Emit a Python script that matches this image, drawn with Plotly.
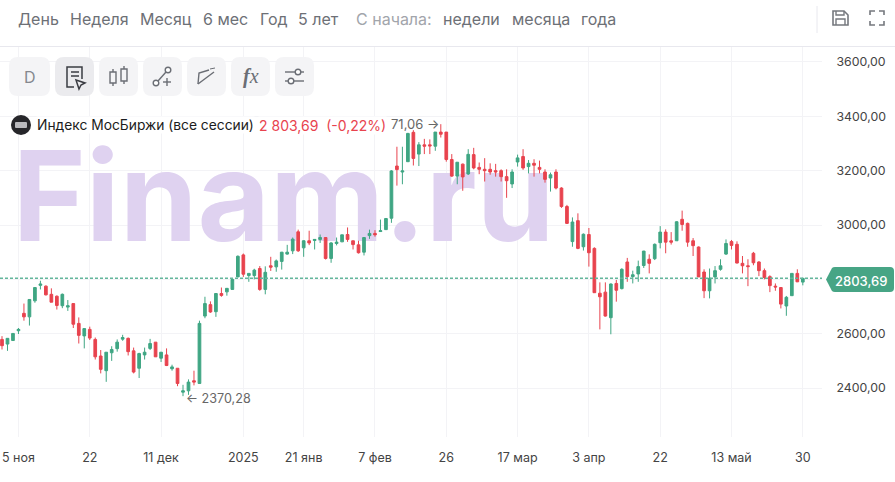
import plotly.graph_objects as go

W, H = 895, 482

# candles
opens = [2579, 2562, 2575, 2611, 2675, 2662, 2721, 2778, 2775, 2745, 2738, 2703, 2698, 2711, 2638, 2592, 2616, 2579, 2518, 2464,
         2530, 2545, 2580, 2583, 2537, 2473, 2522, 2546, 2569, 2510, 2522, 2471, 2473, 2385, 2390, 2427, 2417, 2665, 2707, 2681,
         2748, 2754, 2763, 2809, 2890, 2814, 2814, 2840, 2763, 2850, 2846, 2866, 2893, 2905, 2975, 2916, 2942, 2943, 2947, 2954,
         2877, 2932, 2938, 2965, 2942, 2927, 2900, 2961, 2969, 2976, 2983, 3025, 3217, 3195, 3233, 3341, 3261, 3295, 3295, 3290,
         3342, 3342, 3241, 3180, 3224, 3188, 3259, 3212, 3205, 3205, 3200, 3200, 3178, 3151, 3232, 3252, 3215, 3227, 3212, 3195,
         3173, 3195, 3136, 3068, 2939, 3016, 2920, 2965, 2914, 2749, 2753, 2659, 2785, 2766, 2864, 2810, 2820, 2851, 2874, 2876,
         2935, 2974, 2942, 2942, 3021, 3006, 2942, 2919, 2827, 2758, 2809, 2837, 2893, 2939, 2929, 2859, 2850, 2896, 2864, 2832,
         2810, 2775, 2770, 2702, 2740, 2822, 2790]
highs = [2591, 2583, 2601, 2621, 2711, 2726, 2770, 2795, 2778, 2767, 2741, 2748, 2724, 2711, 2660, 2619, 2626, 2586, 2540, 2532,
         2554, 2579, 2596, 2586, 2549, 2530, 2549, 2581, 2569, 2532, 2546, 2486, 2473, 2412, 2432, 2464, 2648, 2736, 2719, 2748,
         2770, 2767, 2800, 2888, 2895, 2822, 2839, 2849, 2848, 2883, 2873, 2901, 2927, 2954, 2983, 2944, 2979, 2947, 2965, 2954,
         2937, 2954, 2964, 2991, 2942, 2942, 2954, 2983, 2981, 3020, 3024, 3202, 3288, 3288, 3339, 3349, 3305, 3317, 3315, 3342,
         3371.06, 3342, 3261, 3231, 3226, 3279, 3284, 3230, 3246, 3227, 3225, 3205, 3205, 3205, 3259, 3279, 3239, 3242, 3237, 3205,
         3193, 3205, 3139, 3074, 3028, 3043, 2969, 2989, 2918, 2789, 2789, 2785, 2798, 2841, 2879, 2832, 2869, 2905, 2892, 2932,
         2996, 2984, 2974, 3014, 3053, 3009, 2952, 2921, 2837, 2840, 2849, 2874, 2947, 2945, 2940, 2886, 2874, 2901, 2867, 2840,
         2815, 2785, 2770, 2739, 2822, 2837, 2806]
lows = [2542, 2537, 2575, 2599, 2648, 2630, 2714, 2763, 2741, 2716, 2689, 2694, 2684, 2621, 2564, 2546, 2577, 2505, 2454, 2423,
        2500, 2534, 2574, 2520, 2454, 2437, 2505, 2540, 2515, 2496, 2481, 2464, 2407, 2370.28, 2375, 2410, 2417, 2657, 2677, 2662,
        2736, 2740, 2763, 2809, 2809, 2791, 2800, 2758, 2745, 2831, 2828, 2836, 2891, 2893, 2901, 2883, 2926, 2910, 2934, 2873,
        2861, 2925, 2938, 2938, 2910, 2895, 2888, 2949, 2957, 2976, 2983, 3008, 3145, 3150, 3233, 3219, 3217, 3261, 3261, 3273,
        3322, 3233, 3177, 3150, 3126, 3184, 3205, 3187, 3160, 3185, 3178, 3160, 3100, 3136, 3215, 3203, 3190, 3178, 3190, 3156,
        3123, 3131, 3063, 3004, 2920, 2911, 2906, 2847, 2751, 2616, 2663, 2598, 2718, 2763, 2791, 2785, 2791, 2842, 2822, 2871,
        2914, 2896, 2928, 2942, 2979, 2920, 2886, 2809, 2731, 2730, 2785, 2832, 2890, 2910, 2859, 2822, 2775, 2852, 2812, 2800,
        2753, 2758, 2693, 2666, 2740, 2790, 2778]
closes = [2556, 2583, 2601, 2616, 2662, 2726, 2770, 2783, 2743, 2716, 2704, 2745, 2703, 2635, 2594, 2619, 2584, 2515, 2469, 2532,
          2542, 2569, 2586, 2534, 2459, 2527, 2532, 2564, 2515, 2532, 2483, 2478, 2417, 2390, 2422, 2422, 2638, 2711, 2680, 2748,
          2741, 2767, 2800, 2885, 2819, 2822, 2834, 2763, 2826, 2845, 2868, 2900, 2900, 2948, 2905, 2942, 2934, 2947, 2954, 2877,
          2934, 2937, 2964, 2947, 2928, 2898, 2954, 2969, 2964, 2979, 3024, 3199, 3204, 3199, 3337, 3245, 3295, 3290, 3291, 3342,
          3334, 3241, 3180, 3231, 3177, 3260, 3210, 3205, 3200, 3195, 3195, 3178, 3163, 3195, 3247, 3210, 3227, 3220, 3205, 3168,
          3185, 3136, 3068, 3006, 3011, 2914, 2966, 2898, 2751, 2736, 2665, 2783, 2760, 2837, 2810, 2817, 2847, 2904, 2859, 2929,
          2974, 2937, 2937, 3012, 3002, 2937, 2924, 2809, 2758, 2804, 2832, 2850, 2932, 2925, 2860, 2850, 2847, 2861, 2832, 2807,
          2777, 2772, 2709, 2734, 2822, 2791, 2803.69]

xtick_idx = [3, 16, 29, 44, 55, 68, 81, 94, 107, 120, 133, 146]
xtick_labels = ['5 ноя', '22', '11 дек', '2025', '21 янв', '7 фев', '26', '17 мар', '3 апр', '22', '13 май', '30']
ytick_vals = [2400, 2600, 2800, 3000, 3200, 3400, 3600]
# the price badge sits on top of 2800,00
ytick_labels = ['2400,00', '2600,00', '', '3000,00', '3200,00', '3400,00', '3600,00']

last_price = 2803.69
last_label = '2803,69'
high_label = '71,06 →'  # the rest of it is hidden behind the legend
low_label = '← 2370,28'
legend_name = 'Индекс МосБиржи (все сессии)'
legend_value = '2 803,69\u00a0 (-0,22%)'
watermark = 'Finam.ru'

top_links = [('День', 17), ('Неделя', 69), ('Месяц', 139), ('6 мес', 202), ('Год', 259), ('5 лет', 297),
             ('С начала:', 355), ('недели', 442), ('месяца', 511), ('года', 580)]

GREEN = '#3fa683'
RED = '#e8434e'
GRID = '#f3f3f6'
BORDER = '#e8e8ee'
ICON = '#6b6e75'
FONT = 'Inter'


def px(x):
    return x / W


def py(y):
    return 1 - y / H


def path(d):
    # d is an svg path in screen pixels: flip it over to paper coords
    out = []
    nums = d.split()
    i = 0
    while i < len(nums):
        tok = nums[i]
        if tok[0].isalpha():
            out.append(tok)
            i += 1
        else:
            out.append(f'{px(float(tok)):.5f},{py(float(nums[i + 1])):.5f}')
            i += 2
    return ' '.join(out)


def stroke(d, color=ICON, width=1.4):
    return dict(type='path', xref='paper', yref='paper', path=path(d), layer='above',
                line=dict(color=color, width=width))


def rrect(x0, y0, x1, y1, r, fill):
    d = (f'M {x0 + r} {y0} L {x1 - r} {y0} Q {x1} {y0} {x1} {y0 + r} L {x1} {y1 - r} Q {x1} {y1} {x1 - r} {y1} '
         f'L {x0 + r} {y1} Q {x0} {y1} {x0} {y1 - r} L {x0} {y0 + r} Q {x0} {y0} {x0 + r} {y0} Z')
    return dict(type='path', xref='paper', yref='paper', path=path(d), layer='above',
                fillcolor=fill, line=dict(width=0))


def circle(cx, cy, r, fill='white', color=ICON, width=1.4):
    return dict(type='circle', xref='paper', yref='paper', layer='above', x0=px(cx - r), x1=px(cx + r),
                y0=py(cy + r), y1=py(cy - r), fillcolor=fill, line=dict(color=color, width=width))


def label(text, x, y, size=13, color='#444', xanchor='left', weight='normal', **kw):
    return dict(text=text, xref='paper', yref='paper', x=px(x), y=py(y), xanchor=xanchor, yanchor='middle',
                showarrow=False, font=dict(family=kw.pop('family', FONT), size=size, color=color, weight=weight),
                borderpad=0, **kw)


fig = go.Figure()

fig.add_trace(go.Scatter(x=[1.9], y=[3057], mode='text', text=[watermark], textposition='middle right',
                         textfont=dict(family=FONT, size=125, color='#dfd2f0', weight=700),
                         zorder=-1, hoverinfo='skip', showlegend=False))

fig.add_trace(go.Candlestick(x=list(range(len(opens))), open=opens, high=highs, low=lows, close=closes,
                             increasing=dict(line=dict(color=GREEN, width=1), fillcolor=GREEN),
                             decreasing=dict(line=dict(color=RED, width=1), fillcolor=RED),
                             whiskerwidth=0, showlegend=False))

shapes = []
# last price line
shapes.append(dict(type='line', xref='paper', yref='y', x0=0, x1=px(822), y0=last_price, y1=last_price,
                   layer='above', line=dict(color='#63b69b', width=1.5, dash='3px 2px')))
# header
shapes.append(dict(type='line', xref='paper', yref='paper', x0=0, x1=1, y0=py(46.5), y1=py(46.5),
                   line=dict(color=BORDER, width=1)))
shapes.append(dict(type='line', xref='paper', yref='paper', x0=px(817), x1=px(817), y0=py(6), y1=py(33),
                   line=dict(color=BORDER, width=1)))
# save + fullscreen icons
shapes.append(stroke('M 833 11 L 844 11 L 848 15 L 848 25 L 833 25 Z', '#75787e', 1.6))
shapes.append(stroke('M 836 11 L 836 15 L 844 15 L 844 11', '#75787e', 1.4))
shapes.append(stroke('M 836 25 L 836 19 L 845 19 L 845 25', '#75787e', 1.4))
shapes.append(stroke('M 870 15 L 870 11 L 875 11', '#75787e', 1.6))
shapes.append(stroke('M 879 11 L 884 11 L 884 15', '#75787e', 1.6))
shapes.append(stroke('M 870 21 L 870 25 L 875 25', '#75787e', 1.6))
shapes.append(stroke('M 879 25 L 884 25 L 884 21', '#75787e', 1.6))
# toolbar buttons
shapes.append(rrect(9, 57, 50, 96, 9, '#f4f4f6'))
shapes.append(rrect(55, 57, 94, 96, 9, '#ebebee'))
for x0 in [99, 143, 187, 231, 275]:
    shapes.append(rrect(x0, 57, x0 + 39, 96, 9, '#f4f4f6'))
# document + cursor
shapes.append(stroke('M 82 79 L 82 67 L 67 67 L 67 87 L 74 87', '#3a3c42', 1.5))
shapes.append(stroke('M 71 72 L 79 72', '#3a3c42', 1.5))
shapes.append(stroke('M 71 76 L 79 76', '#3a3c42', 1.5))
shapes.append(stroke('M 76 80 L 85 83 L 81 85 L 79 89 Z', '#3a3c42', 1.5))
# candles
shapes.append(stroke('M 110 72 L 116 72 L 116 83 L 110 83 Z'))
shapes.append(stroke('M 113 69 L 113 72'))
shapes.append(stroke('M 113 83 L 113 86'))
shapes.append(stroke('M 121 69 L 127 69 L 127 81 L 121 81 Z'))
shapes.append(stroke('M 124 66 L 124 69'))
shapes.append(stroke('M 124 81 L 124 84'))
# trend line tool
shapes.append(stroke('M 158 81 L 166 72'))
shapes.append(circle(156, 83, 2.8))
shapes.append(circle(168, 70, 2.8))
shapes.append(stroke('M 163 82 L 171 82'))
shapes.append(stroke('M 167 78 L 167 86'))
# channel tool
shapes.append(stroke('M 198 84 L 199 73 L 209 70'))
shapes.append(stroke('M 198 84 L 214 72'))
shapes.append(stroke('M 210 69 L 215 68', ICON, 1))
# settings sliders
shapes.append(stroke('M 285 72 L 304 72'))
shapes.append(stroke('M 285 81 L 304 81'))
shapes.append(circle(298, 72, 2.8))
shapes.append(circle(291, 81, 2.8))
# legend logo
shapes.append(circle(21, 125, 10, '#26262a', '#26262a', 0))
shapes.append(rrect(15, 122, 27, 128, 1, '#b9b9bd'))
# price badge, points at the last price
shapes.append(dict(type='path', xref='paper', yref='paper', layer='above', fillcolor='#47a585', line=dict(width=0),
                   path=path('M 826 279.5 L 832 268 Q 833 267 835 267 L 890 267 Q 894 267 894 271 L 894 288 '
                             'Q 894 292 890 292 L 835 292 Q 833 292 832 291 Z')))

ann = []
for text, x in top_links:
    color = '#a2a5ab' if text == 'С начала:' else '#6d7076'
    ann.append(label(text, x, 19.5, 16, color))
ann.append(label('D', 29.5, 76.5, 16, '#85888e', 'center'))
ann.append(label('<b><i>f</i></b><i>x</i>', 250.5, 76, 20, '#6b6e75', 'center', family='Liberation Serif'))
ann.append(label(last_label, 861, 280.5, 13, 'white', 'center', weight=500))
ann.append(label(high_label, 440, 124, 13, '#666', 'right'))
ann.append(label(low_label, 185, 398, 12.6, '#666'))
ann.append(label(legend_name, 35.5, 125.5, 13.8, '#1b1c20', bgcolor='white'))
ann.append(label(legend_value, 257.5, 125.5, 14, RED, bgcolor='white'))

fig.update_layout(
    width=W, height=H, autosize=False,
    margin=dict(l=0, r=0, t=0, b=0),
    paper_bgcolor='white', plot_bgcolor='white',
    font=dict(family=FONT, color='#444'),
    boxgap=0.3,
    shapes=shapes, annotations=ann,
    dragmode=False,
    xaxis=dict(domain=[0, px(822)], range=[-0.365, 149.5], rangeslider=dict(visible=False),
               tickmode='array', tickvals=xtick_idx, ticktext=xtick_labels,
               tickfont=dict(family=FONT, size=12.5, color='#444'), ticks='outside', ticklen=9, tickcolor='white',
               showgrid=True, gridcolor=GRID, gridwidth=1, zeroline=False,
               showline=True, linecolor=BORDER, linewidth=1),
    yaxis=dict(domain=[py(437), py(47)], range=[2220, 3655], side='right',
               tickmode='array', tickvals=ytick_vals, ticktext=ytick_labels,
               tickfont=dict(family=FONT, size=12.3, color='#444'), ticks='outside', ticklen=11, tickcolor='white',
               showgrid=True, gridcolor=GRID, gridwidth=1, zeroline=False,
               showline=True, linecolor=BORDER, linewidth=1),
)

fig.write_html("out.html", config=dict(displayModeBar=False),
               post_script="document.body.style.margin='0';")
